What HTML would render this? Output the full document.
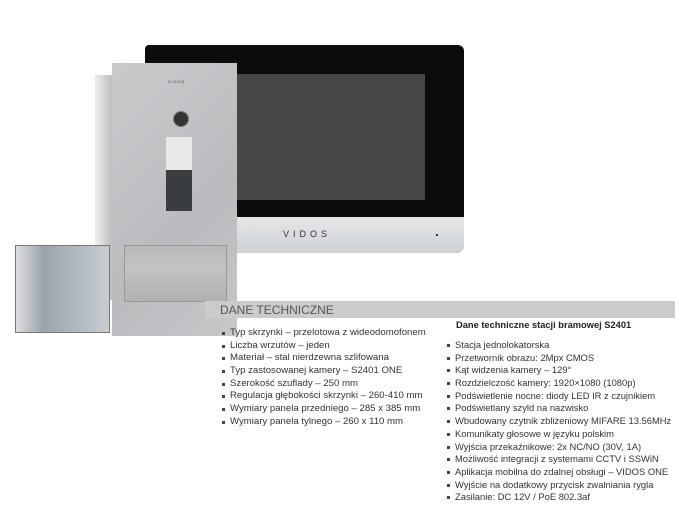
<!DOCTYPE html>
<html><head><meta charset="utf-8"><style>
body{margin:0;width:695px;height:524px;background:#fff;position:relative;overflow:hidden;font-family:"Liberation Sans","DejaVu Sans",sans-serif}
.a{position:absolute}
ul{position:absolute;margin:0;padding:0;list-style:none;font-size:9.6px;color:#333}
li{height:12.7px;line-height:12.7px;white-space:nowrap;position:relative}
li:before{content:"";position:absolute;width:3px;height:3px;background:#444;left:-8px;top:5px}
</style></head><body>
<!-- monitor -->
<div class="a" style="left:145px;top:45px;width:319px;height:208px;background:#0c0c0c;border-radius:4px 6px 8px 4px"></div>
<div class="a" style="left:237px;top:74px;width:188px;height:126px;background:#474645"></div>
<div class="a" style="left:237px;top:217px;width:227px;height:36px;background:linear-gradient(#e4e6e8,#cfd2d5);border-radius:0 0 8px 0"></div>
<div class="a" style="left:283px;top:229px;font-size:9px;letter-spacing:4px;color:#333">VIDOS</div>
<div class="a" style="left:436px;top:234px;width:2px;height:2px;background:#333"></div>
<!-- back box -->
<div class="a" style="left:95px;top:75px;width:18px;height:225px;background:linear-gradient(90deg,#eee,#bbb)"></div>
<!-- drawer -->
<div class="a" style="left:15px;top:245px;width:95px;height:88px;background:linear-gradient(90deg,#ddd,#9aa3ad 30%,#c8cdd3);border:1px solid #777;box-sizing:border-box"></div>
<!-- panel -->
<div class="a" style="left:112px;top:63px;width:125px;height:273px;background:linear-gradient(135deg,#c9cacc,#b9bbbe 60%,#c6c7c9)"></div>
<div class="a" style="left:168px;top:79px;font-size:4px;letter-spacing:1px;color:#444">VIDOS</div>
<div class="a" style="left:173px;top:111px;width:14px;height:14px;border-radius:50%;background:#333;border:1px solid #777"></div>
<div class="a" style="left:166px;top:137px;width:26px;height:33px;background:#e8e8e8"></div>
<div class="a" style="left:166px;top:170px;width:26px;height:41px;background:#3a3d40"></div>
<div class="a" style="left:124px;top:245px;width:103px;height:57px;border:1px solid #999;box-sizing:border-box;background:linear-gradient(#b8b9bb,#c2c3c5 40%,#aeb0b2)"></div>
<!-- header bar -->
<div class="a" style="left:205px;top:301px;width:470px;height:17px;background:#cbcbcb"></div>
<div class="a" style="left:220px;top:302px;font-size:12px;color:#555;line-height:16px">DANE TECHNICZNE</div>
<ul style="left:230px;top:327px">
<li>Typ skrzynki – przelotowa z wideodomofonem</li>
<li>Liczba wrzutów – jeden</li>
<li>Materiał – stal nierdzewna szlifowana</li>
<li>Typ zastosowanej kamery – S2401 ONE</li>
<li>Szerokość szuflady –  250 mm</li>
<li>Regulacja głębokości skrzynki  – 260-410 mm</li>
<li>Wymiary panela przedniego – 285 x 385 mm</li>
<li>Wymiary panela tylnego –  260 x 110 mm</li>
</ul>
<div class="a" style="left:456px;top:320px;font-size:9.3px;font-weight:bold;color:#222">Dane techniczne stacji bramowej S2401</div>
<ul style="left:455px;top:339px;font-size:9.4px">
<li>Stacja jednolokatorska</li>
<li>Przetwornik obrazu: 2Mpx CMOS</li>
<li>Kąt widzenia kamery – 129°</li>
<li>Rozdzielczość kamery: 1920×1080 (1080p)</li>
<li>Podświetlenie nocne: diody LED IR z czujnikiem</li>
<li>Podświetlany szyld na nazwisko</li>
<li>Wbudowany czytnik zbliżeniowy MIFARE 13.56MHz</li>
<li>Komunikaty głosowe w języku polskim</li>
<li>Wyjścia przekaźnikowe: 2x NC/NO (30V, 1A)</li>
<li>Możliwość integracji z systemami CCTV i SSWiN</li>
<li>Aplikacja mobilna do zdalnej obsługi – VIDOS ONE</li>
<li>Wyjście na dodatkowy przycisk zwalniania rygla</li>
<li>Zasilanie: DC 12V / PoE 802.3af</li>
</ul>
</body></html>
